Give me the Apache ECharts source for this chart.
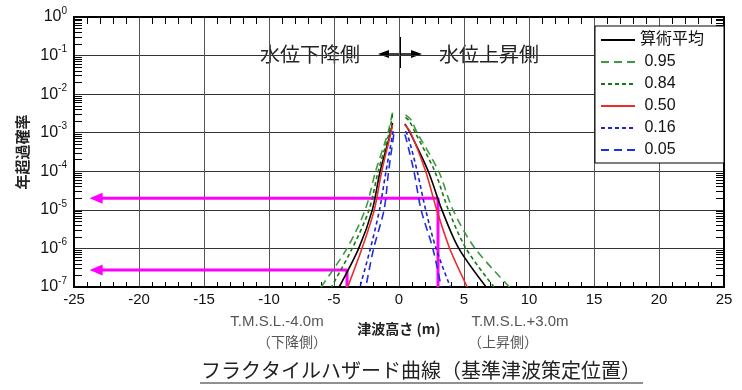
<!DOCTYPE html>
<html>
<head>
<meta charset="utf-8">
<script src="https://cdn.jsdelivr.net/npm/echarts@6/dist/echarts.min.js"></script>
<style>
html,body{margin:0;padding:0;background:#fff;}
#c{width:742px;height:390px;}
</style>
</head>
<body>
<div id="c"></div>
<script>
// ---- data ([tsunami height m, annual exceedance probability]) ----
const seriesNames = ['算術平均', '0.95', '0.84', '0.50', '0.16', '0.05'];

const meanLeft = [[-0.5,1.8e-3],[-0.65,1e-3],[-1.45,1e-4],[-2.05,1e-5],[-3.1,1e-6],[-4.6,1e-7]];
const meanRight = [[0.45,1.7e-3],[0.85,1e-3],[2.25,1e-4],[3.3,1e-5],[4.6,1e-6],[6.7,1e-7]];

const q95Left = [[-0.5,3.3e-3],[-0.85,1e-3],[-1.8,1e-4],[-2.6,1e-5],[-4.0,1e-6],[-6.0,1e-7]];
const q95Right = [[0.5,2.9e-3],[0.9,2.2e-3],[1.4,1e-3],[3.05,1e-4],[4.15,1e-5],[5.85,1e-6],[8.5,1e-7]];

const q84Left = [[-0.5,3.0e-3],[-0.75,1e-3],[-1.6,1e-4],[-2.3,1e-5],[-3.6,1e-6],[-5.2,1e-7]];
const q84Right = [[0.5,2.5e-3],[0.8,2.0e-3],[1.25,1e-3],[2.75,1e-4],[3.8,1e-5],[5.15,1e-6],[7.3,1e-7]];

const q50Left = [[-0.5,1.6e-3],[-0.62,1e-3],[-1.33,1e-4],[-1.9,1e-5],[-2.85,1e-6],[-3.95,1e-7]];
const q50Right = [[0.45,1.6e-3],[0.9,1e-3],[2.05,1e-4],[2.9,1e-5],[3.9,1e-6],[5.25,1e-7]];

const q16Left = [[-0.45,1.1e-3],[-1.0,1e-4],[-1.5,1e-5],[-2.2,1e-6],[-3.0,1e-7]];
const q16Right = [[0.5,1.1e-3],[0.7,8e-4],[1.4,1e-4],[2.05,1e-5],[2.85,1e-6],[3.95,1e-7]];

const q05Left = [[-0.4,9e-4],[-0.8,1e-4],[-1.15,1e-5],[-1.95,1e-6],[-2.55,1e-7]];
const q05Right = [[0.45,9e-4],[0.6,6e-4],[1.15,1e-4],[1.7,1e-5],[2.6,1e-6],[3.25,1e-7]];

// reading lines (T.M.S.L.+3.0m and -4.0m)
const riseRead = [[3.0,1e-7],[3.0,2.0e-5],[-23.3,2.0e-5]];
const fallRead = [[-4.0,1e-7],[-4.0,2.75e-7],[-23.3,2.75e-7]];

const xMin = -25, xMax = 25, xStep = 5;
const yMin = 1e-7, yMax = 1;

// ---- chart ----
const FONT = '"Liberation Sans", "Noto Sans CJK JP", sans-serif';
const JFONT = '"Noto Sans CJK JP", sans-serif';
const GRID = {left:74, right:18, top:17, bottom:103};
const W = 742, H = 390;
const gridW = W - GRID.left - GRID.right, gridH = H - GRID.top - GRID.bottom;
const chart = echarts.init(document.getElementById('c'), null, {renderer:'canvas'});

const styles = {
  '算術平均': {color:'#000000', type:'solid'},
  '0.95': {color:'#3f9a3f', type:[8,5]},
  '0.84': {color:'#157a15', type:[4,3]},
  '0.50': {color:'#ee2a2a', type:'solid'},
  '0.16': {color:'#1f1fd6', type:[4,3]},
  '0.05': {color:'#1f2fe0', type:[8,5]}
};
const branches = [
  ['算術平均', meanLeft], ['算術平均', meanRight],
  ['0.95', q95Left], ['0.95', q95Right],
  ['0.84', q84Left], ['0.84', q84Right],
  ['0.50', q50Left], ['0.50', q50Right],
  ['0.16', q16Left], ['0.16', q16Right],
  ['0.05', q05Left], ['0.05', q05Right]
];

function readLine(data) {
  return {
    type:'line', data: data.map((p,i)=> i===data.length-1 ?
      {value:p, symbol:'triangle', symbolSize:[11,13], symbolRotate:90, itemStyle:{color:'#ff00ff'}} :
      {value:p, symbol:'none'}),
    showSymbol:true, silent:true, z:2, animation:false,
    lineStyle:{color:'#ff00ff', width:3}, itemStyle:{color:'#ff00ff'}
  };
}

const series = [readLine(riseRead), readLine(fallRead)];
branches.forEach(([name, data]) => {
  const s = styles[name];
  series.push({
    name, type:'line', data, symbol:'none', smooth:0.3, animation:false, z:3,
    lineStyle:{color:s.color, type:s.type, width:1.6},
    itemStyle:{color:s.color}
  });
});

const axisLineStyle = {show:true, onZero:false, lineStyle:{color:'#000', width:2}};
const supFmt = v => '{a|10}{b|' + Math.round(Math.log10(v)) + '}';

// frame axes carrying only the minor ticks
function xTickAxis(offset, inside, len) {
  return {type:'value', min:xMin, max:xMax, interval:xStep, position:'top', offset,
    axisLine:axisLineStyle, axisTick:{show:false, inside}, axisLabel:{show:false},
    minorTick:{show:true, splitNumber:5, length:len, lineStyle:{color:'#000', width:1}},
    splitLine:{show:false}};
}
function yTickAxis(offset, inside, len) {
  return {type:'log', logBase:10, min:yMin, max:yMax, position:'right', offset,
    axisLine:axisLineStyle, axisTick:{show:false, inside}, axisLabel:{show:false},
    minorTick:{show:true, splitNumber:9, length:len, lineStyle:{color:'#000', width:1}},
    splitLine:{show:false}};
}

chart.setOption({
  backgroundColor:'#fff',
  animation:false,
  grid:{left:GRID.left, right:GRID.right, top:GRID.top, bottom:GRID.bottom, containLabel:false},
  legend:{
    data: seriesNames, orient:'vertical', right:18, top:26,
    backgroundColor:'#fff', borderColor:'#000', borderWidth:1,
    padding:[6,20,5,5], itemWidth:34, itemHeight:14, itemGap:6,
    formatter: n => n === '算術平均' ? n : ' ' + n,
    itemStyle:{opacity:0, color:'transparent', borderWidth:0},
    textStyle:{fontFamily:FONT, fontSize:16, color:'#111'},
    selectedMode:false
  },
  xAxis:[{
    type:'value', min:xMin, max:xMax, interval:xStep, position:'bottom',
    axisLine:axisLineStyle,
    axisTick:{show:false},
    axisLabel:{fontFamily:FONT, fontSize:15, color:'#111', margin:5},
    splitLine:{show:true, lineStyle:{color:'#555', width:1}},
    name:'津波高さ (m)', nameLocation:'middle', nameGap:35,
    nameTextStyle:{fontFamily:JFONT, fontSize:14, fontWeight:'bold', color:'#222'}
  }, xTickAxis(0, true, 7), xTickAxis(-gridH, false, 5)],
  yAxis:[{
    type:'log', logBase:10, min:yMin, max:yMax, position:'left',
    axisLine:axisLineStyle,
    axisTick:{show:false},
    splitLine:{show:true, lineStyle:{color:'#333', width:1}},
    axisLabel:{formatter:supFmt, margin:7, rich:{
      a:{fontFamily:FONT, fontSize:16, color:'#111', lineHeight:22},
      b:{fontFamily:FONT, fontSize:10, color:'#111', verticalAlign:'top'}
    }},
    name:'年超過確率', nameLocation:'middle', nameRotate:90, nameGap:44,
    nameTextStyle:{fontFamily:JFONT, fontSize:15, fontWeight:'bold', color:'#222'}
  }, yTickAxis(0, true, 8), yTickAxis(-gridW, false, 8)],
  series,
  graphic:[
    {type:'text', silent:true, style:{text:'水位下降側', x:310, y:54, textAlign:'center', textVerticalAlign:'middle', font:'20px "Noto Sans CJK JP"', fill:'#222'}},
    {type:'text', silent:true, style:{text:'水位上昇側', x:489, y:54, textAlign:'center', textVerticalAlign:'middle', font:'20px "Noto Sans CJK JP"', fill:'#222'}},
    {type:'line', silent:true, shape:{x1:384, y1:54, x2:416, y2:54}, style:{stroke:'#000', lineWidth:1.5}},
    {type:'polygon', silent:true, shape:{points:[[378,54],[389,50],[389,58]]}, style:{fill:'#000'}},
    {type:'polygon', silent:true, shape:{points:[[422,54],[411,50],[411,58]]}, style:{fill:'#000'}},
    {type:'line', silent:true, shape:{x1:400, y1:37, x2:400, y2:68}, style:{stroke:'#000', lineWidth:2}},
    {type:'text', silent:true, style:{text:'T.M.S.L.-4.0m', x:277, y:322, textAlign:'center', textVerticalAlign:'middle', font:'15px "Liberation Sans"', fill:'#555'}},
    {type:'text', silent:true, style:{text:'（下降側）', x:292, y:342, textAlign:'center', textVerticalAlign:'middle', font:'14px "Noto Sans CJK JP"', fill:'#555'}},
    {type:'text', silent:true, style:{text:'T.M.S.L.+3.0m', x:520, y:322, textAlign:'center', textVerticalAlign:'middle', font:'15px "Liberation Sans"', fill:'#555'}},
    {type:'text', silent:true, style:{text:'（上昇側）', x:503, y:342, textAlign:'center', textVerticalAlign:'middle', font:'14px "Noto Sans CJK JP"', fill:'#555'}},
    {type:'text', silent:true, style:{text:'フラクタイルハザード曲線（基準津波策定位置）', x:421, y:370, textAlign:'center', textVerticalAlign:'middle', font:'20px "Noto Sans CJK JP"', fill:'#222'}},
    {type:'line', silent:true, shape:{x1:200, y1:383, x2:643, y2:383}, style:{stroke:'#222', lineWidth:1}}
  ]
});
</script>
</body>
</html>
